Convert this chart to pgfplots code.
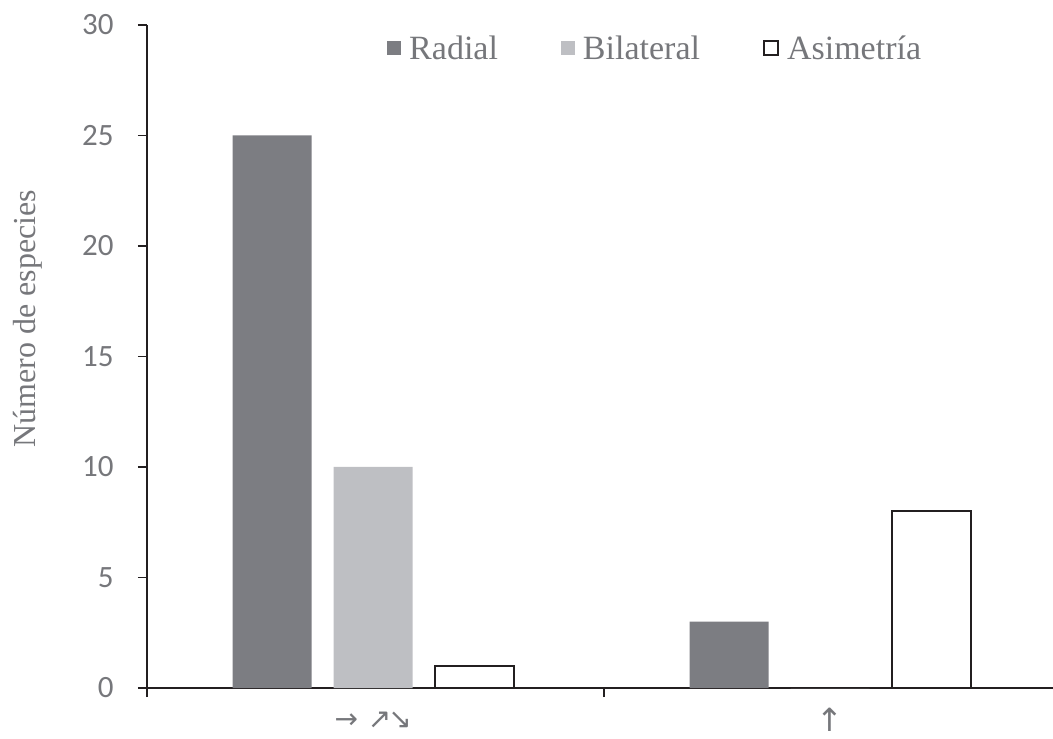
\documentclass[border=0pt]{standalone}
\usepackage{fontspec}
\setmainfont{Liberation Serif}
\newfontfamily\carlito{Carlito}
\newfontfamily\arrowfont{DejaVu Sans}
\usepackage{pgfplots}
\pgfplotsset{compat=1.18}
\definecolor{radial}{RGB}{124,125,130}
\definecolor{bilat}{RGB}{190,191,195}
\definecolor{txt}{RGB}{118,119,123}
\definecolor{axl}{RGB}{35,31,32}

\begin{document}
\begin{tikzpicture}
\begin{axis}[
    scale only axis,
    width=914pt, height=663pt,
    ymin=0, ymax=30, ytick={0,5,...,30},
    xmin=-0.5, xmax=1.5,
    xtick={-0.5,0.5,1.5},
    xticklabels={},
    extra x ticks={-0.005,0.995},
    extra x tick labels={{→\hspace{10pt}↗\hspace{-3pt}↘},{\fontsize{32}{34}\selectfont↑}},
    extra x tick style={major tick length=0pt,
        x tick label style={font=\arrowfont\fontsize{28}{30}\selectfont, text=txt,
            anchor=center, inner sep=0pt, yshift=-32pt}},
    y tick label style={font=\carlito\fontsize{31}{33}\selectfont, text=txt, xshift=-21pt},
    /pgf/number format/assume math mode=true,
    axis x line=bottom, axis y line=left,
    axis line style={-, draw=axl, line width=1.4pt},
    tick align=outside,
    major tick length=9pt,
    tick style={draw=axl, line width=1.4pt},
    ybar=22pt, bar width=79pt,
    ylabel={Número de especies},
    ylabel style={font=\fontsize{32}{34}\selectfont, text=txt,
        at={(axis description cs:-0.130,0.557)}, anchor=center},
    legend style={draw=none, fill=none, at={(axis description cs:0.556,0.965)},
        anchor=center, legend columns=3, font=\fontsize{34}{36}\selectfont, text=txt,
        /tikz/every even column/.append style={column sep=61pt}},
    legend image code/.code={\path[#1] (0pt,-7pt) rectangle (14pt,7pt); \path (20pt,0pt);},
    clip=false,
]
\addplot[fill=radial, draw=none] coordinates {(-0.005,25) (0.995,3)};
\addplot[fill=bilat, draw=none] coordinates {(-0.005,10) (0.995,0)};
\addplot[fill=white, draw=axl, line width=2pt] coordinates {(-0.005,1) (0.995,8)};
\legend{Radial, Bilateral, Asimetría}
\coordinate (sw) at (rel axis cs:0,0);
\coordinate (ne) at (rel axis cs:1,1);
\end{axis}
\pgfresetboundingbox
\path ([shift={(-147pt,-50pt)}]sw) rectangle ([shift={(-8pt,25pt)}]ne);
\end{tikzpicture}
\end{document}
